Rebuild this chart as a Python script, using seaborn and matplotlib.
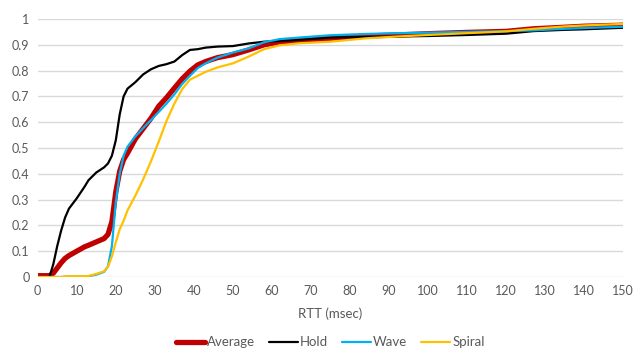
import matplotlib
matplotlib.use("Agg")
import matplotlib.pyplot as plt
import seaborn as sns
import pandas as pd

rtt = [0, 3, 4, 5, 6, 7, 8, 10, 12, 13, 15, 17, 18, 19, 20, 21, 22, 23, 25, 27, 29, 31,
       33, 35, 37, 39, 41, 43, 46, 50, 54, 58, 62, 67, 75, 84, 92, 100, 110, 120, 127,
       135, 140, 150]
average = [0.005, 0.005, 0.015, 0.035, 0.055, 0.072, 0.083, 0.1, 0.117, 0.123, 0.136, 0.149,
           0.165, 0.215, 0.33, 0.41, 0.455, 0.48, 0.535, 0.575, 0.615, 0.662, 0.695, 0.732,
           0.768, 0.798, 0.822, 0.835, 0.85, 0.862, 0.88, 0.9, 0.911, 0.916, 0.925, 0.934,
           0.938, 0.943, 0.948, 0.952, 0.962, 0.968, 0.972, 0.976]
hold = [0, 0, 0.05, 0.12, 0.18, 0.23, 0.265, 0.305, 0.35, 0.375, 0.405, 0.425, 0.44, 0.47,
        0.53, 0.63, 0.70, 0.73, 0.755, 0.785, 0.805, 0.818, 0.825, 0.835, 0.86, 0.88, 0.883,
        0.889, 0.893, 0.895, 0.905, 0.912, 0.915, 0.919, 0.928, 0.93, 0.932, 0.934, 0.938,
        0.943, 0.953, 0.958, 0.96, 0.966]
wave = [0, 0, 0, 0, 0, 0.001, 0.002, 0.002, 0.002, 0.003, 0.009, 0.02, 0.041, 0.12, 0.29,
        0.40, 0.47, 0.505, 0.545, 0.577, 0.608, 0.64, 0.672, 0.708, 0.748, 0.78, 0.81,
        0.828, 0.85, 0.87, 0.886, 0.91, 0.922, 0.928, 0.937, 0.942, 0.945, 0.947, 0.95,
        0.953, 0.956, 0.962, 0.965, 0.97]
spiral = [0, 0, 0, 0, 0, 0.002, 0.003, 0.003, 0.003, 0.004, 0.012, 0.022, 0.04, 0.08, 0.135,
          0.185, 0.218, 0.258, 0.315, 0.378, 0.448, 0.525, 0.605, 0.672, 0.728, 0.765, 0.78,
          0.795, 0.812, 0.828, 0.854, 0.883, 0.898, 0.906, 0.912, 0.925, 0.932, 0.938, 0.945,
          0.952, 0.962, 0.971, 0.975, 0.981]

series_names = ["Average", "Hold", "Wave", "Spiral"]
series_values = [average, hold, wave, spiral]
colors = ["#C00000", "#000000", "#00B0F0", "#FFC000"]
widths = [3.8, 1.6, 1.6, 1.6]
x_ticks = list(range(0, 151, 10))
y_ticks = [0, 0.1, 0.2, 0.3, 0.4, 0.5, 0.6, 0.7, 0.8, 0.9, 1.0]
y_labels = ["0", "0.1", "0.2", "0.3", "0.4", "0.5", "0.6", "0.7", "0.8", "0.9", "1"]

sns.set_theme(style="white")
plt.rcParams["font.family"] = ["Lato", "DejaVu Sans"]

fig = plt.figure(figsize=(6.35, 3.49), dpi=100)
ax = fig.add_axes([0.0594, 0.2063, 0.9222, 0.7393])

for name, vals, c, w in zip(series_names, series_values, colors, widths):
    df = pd.DataFrame({"RTT": rtt, "CDF": vals})
    sns.lineplot(data=df, x="RTT", y="CDF", ax=ax, color=c, linewidth=w, label=name)

ax.set_xlim(0, 150)
ax.set_ylim(0, 1)
ax.set_xticks(x_ticks)
ax.set_xticklabels([str(t) for t in x_ticks])
ax.set_yticks(y_ticks)
ax.set_yticklabels(y_labels)
ax.grid(axis="y", color="#D9D9D9", linewidth=1)
ax.set_axisbelow(True)
for s in ax.spines.values():
    s.set_visible(False)
ax.tick_params(axis="both", length=0, labelsize=9, colors="#595959", pad=6)
ax.set_xlabel("RTT (msec)", fontsize=9.5, color="#595959", labelpad=7)
ax.set_ylabel("")

handles, labels = ax.get_legend_handles_labels()
ax.get_legend().remove()
fig.legend(handles, labels, loc="center", bbox_to_anchor=(0.52, 0.019), ncol=4,
           frameon=False, fontsize=9.5, labelcolor="#595959", handlelength=2.2,
           handletextpad=0.2, columnspacing=1.0)

fig.savefig("out.png", dpi=100)
